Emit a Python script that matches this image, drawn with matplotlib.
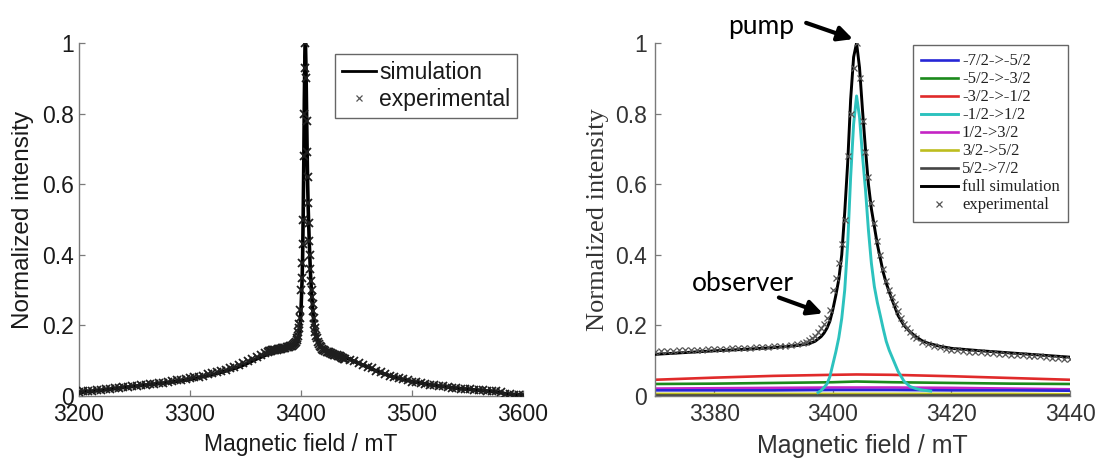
import numpy as np
import matplotlib
matplotlib.use("Agg")
import matplotlib.pyplot as plt
from matplotlib.lines import Line2D

# ---------------- data ----------------
# full simulation (field in mT, normalized intensity)
sim_field = [3200, 3220, 3240, 3260, 3280, 3300, 3320, 3340, 3350, 3360, 3370, 3380, 3385,
             3390, 3394, 3396, 3397, 3398, 3398.5, 3399, 3399.5, 3400, 3400.5, 3401, 3401.5,
             3402, 3402.5, 3403, 3403.5, 3404, 3404.5, 3405, 3405.5, 3406, 3406.5, 3407,
             3407.5, 3408, 3408.5, 3409, 3409.5, 3410, 3411, 3412, 3413, 3414, 3415, 3416,
             3418, 3420, 3425, 3430, 3435, 3440, 3450, 3460, 3470, 3480, 3490, 3500, 3520,
             3540, 3560, 3575, 3585, 3600]
sim_int = [0.010, 0.016, 0.024, 0.031, 0.038, 0.047, 0.060, 0.078, 0.090, 0.105, 0.118, 0.128, 0.132,
           0.137, 0.143, 0.148, 0.155, 0.168, 0.178, 0.192, 0.212, 0.245, 0.285, 0.330, 0.400,
           0.520, 0.660, 0.840, 0.960, 1.000, 0.930, 0.810, 0.700, 0.600, 0.530, 0.480,
           0.430, 0.390, 0.350, 0.320, 0.295, 0.272, 0.228, 0.200, 0.182, 0.168, 0.157, 0.150,
           0.141, 0.135, 0.128, 0.122, 0.116, 0.110, 0.095, 0.082, 0.068, 0.057, 0.048, 0.041, 0.030,
           0.022, 0.016, 0.012, 0.006, 0.003]

# experimental points
exp_field = ([3200 + 4 * i for i in range(43)] +
             [3370 + i for i in range(26)] +
             [3395.5 + 0.5 * i for i in range(38)] +
             [3414 + 1 + i for i in range(26)] +
             [3444 + 4 * i for i in range(40)])
exp_int = [
    # 3200 .. 3368 (step 4)
    0.012, 0.013, 0.014, 0.015, 0.016, 0.017, 0.019, 0.020, 0.022, 0.023, 0.025,
    0.026, 0.028, 0.029, 0.031, 0.032, 0.034, 0.035, 0.037, 0.038, 0.040, 0.042,
    0.044, 0.046, 0.048, 0.050, 0.053, 0.055, 0.058, 0.061, 0.064, 0.067, 0.071,
    0.075, 0.079, 0.083, 0.088, 0.093, 0.098, 0.104, 0.110, 0.116, 0.121,
    # 3370 .. 3395 (step 1)
    0.126, 0.127, 0.127, 0.128, 0.129, 0.129, 0.130, 0.131, 0.131, 0.132, 0.133,
    0.134, 0.134, 0.135, 0.136, 0.136, 0.137, 0.138, 0.139, 0.140, 0.141, 0.142,
    0.143, 0.145, 0.147, 0.150,
    # 3395.5 .. 3414 (step 0.5)
    0.154, 0.158, 0.163, 0.170, 0.180, 0.192, 0.205, 0.222, 0.245, 0.300, 0.335,
    0.376, 0.430, 0.500, 0.680, 0.800, 0.930, 1.000, 0.900, 0.780, 0.690, 0.620,
    0.547, 0.490, 0.440, 0.400, 0.360, 0.325, 0.300, 0.280, 0.260, 0.240, 0.220,
    0.205, 0.192, 0.180, 0.170, 0.163,
    # 3415 .. 3440 (step 1)
    0.153, 0.147, 0.142, 0.138, 0.134, 0.131, 0.129, 0.127, 0.126, 0.125, 0.124,
    0.122, 0.121, 0.120, 0.119, 0.117, 0.116, 0.115, 0.114, 0.113, 0.112, 0.110,
    0.109, 0.108, 0.106, 0.105,
    # 3444 .. 3600 (step 4)
    0.102, 0.098, 0.093, 0.088, 0.083, 0.078, 0.072, 0.067, 0.062, 0.058, 0.054,
    0.050, 0.047, 0.044, 0.041, 0.039, 0.036, 0.034, 0.032, 0.030, 0.028, 0.027,
    0.025, 0.024, 0.022, 0.021, 0.020, 0.019, 0.018, 0.017, 0.016, 0.015, 0.014,
    0.013, 0.010, 0.007, 0.005, 0.004, 0.003, 0.003]

# individual transitions (right panel)
comp_field = [3370, 3380, 3390, 3400, 3404, 3410, 3420, 3430, 3440]
comp_m72 = [0.016, 0.016, 0.016, 0.017, 0.017, 0.017, 0.016, 0.016, 0.015]   # -7/2->-5/2
comp_m52 = [0.034, 0.035, 0.037, 0.039, 0.041, 0.039, 0.037, 0.035, 0.034]   # -5/2->-3/2
comp_m32 = [0.046, 0.052, 0.057, 0.060, 0.061, 0.060, 0.056, 0.051, 0.046]   # -3/2->-1/2
comp_p12 = [0.021, 0.022, 0.023, 0.024, 0.024, 0.024, 0.023, 0.021, 0.019]   # 1/2->3/2
comp_p32 = [0.006, 0.006, 0.006, 0.006, 0.006, 0.006, 0.006, 0.006, 0.005]   # 3/2->5/2
comp_p52 = [0.003, 0.003, 0.003, 0.003, 0.003, 0.003, 0.003, 0.003, 0.003]   # 5/2->7/2

central_field = [3397.5, 3398, 3398.5, 3399, 3399.5, 3400, 3400.5, 3401, 3401.5, 3402, 3402.5,
                 3403, 3403.5, 3404, 3404.5, 3405, 3405.5, 3406, 3406.5, 3407, 3407.5, 3408,
                 3408.5, 3409, 3409.5, 3410, 3411, 3412, 3413, 3414, 3415, 3416, 3416.5]
central_int = [0.010, 0.015, 0.024, 0.034, 0.055, 0.090, 0.125, 0.165, 0.220, 0.300, 0.430,
               0.620, 0.770, 0.850, 0.790, 0.680, 0.585, 0.470, 0.376, 0.310, 0.265, 0.228,
               0.190, 0.155, 0.130, 0.110, 0.070, 0.042, 0.027, 0.021, 0.017, 0.015, 0.014]  # -1/2->1/2

comp_labels = ["-7/2->-5/2", "-5/2->-3/2", "-3/2->-1/2", "-1/2->1/2",
               "1/2->3/2", "3/2->5/2", "5/2->7/2", "full simulation", "experimental"]
comp_colors = ["#2626d6", "#1b8a1b", "#e02a2a", "#2cc2be", "#c424c4", "#bdbd1e", "#444444", "#000000"]

left_xticks = [3200, 3300, 3400, 3500, 3600]
right_xticks = [3380, 3400, 3420, 3440]
yticks = [0, 0.2, 0.4, 0.6, 0.8, 1]
ytick_labels = ["0", "0.2", "0.4", "0.6", "0.8", "1"]

# ---------------- figure ----------------
W, H = 1099, 462
fig = plt.figure(figsize=(W / 100, H / 100), dpi=100)
fig.patch.set_facecolor("white")

def px_axes(l, r, t, b):
    return fig.add_axes([l / W, 1 - b / H, (r - l) / W, (b - t) / H])

sans = "Liberation Sans"
serif = "Liberation Serif"
spine_col = "#7a7a7a"

def style(ax, pad_y, lab_col):
    for s in ["top", "right"]:
        ax.spines[s].set_visible(False)
    for s in ["left", "bottom"]:
        ax.spines[s].set_color(spine_col)
        ax.spines[s].set_linewidth(1.0)
    ax.tick_params(direction="in", length=4, width=0.9, color=spine_col,
                   labelsize=16.5, labelcolor=lab_col)
    ax.tick_params(axis="x", pad=5)
    ax.tick_params(axis="y", pad=pad_y)
    for t in ax.get_xticklabels() + ax.get_yticklabels():
        t.set_fontfamily(sans)

# ---- left panel ----
axL = px_axes(79, 523, 43, 396)
axL.plot(sim_field, sim_int, color="black", lw=2.6, zorder=3)
axL.plot(exp_field, exp_int, ls="none", marker="x", ms=5.5, mew=1.3, color="#1e1e1e", zorder=4)
axL.set_xlim(3200, 3600)
axL.set_ylim(0, 1)
axL.set_xticks(left_xticks)
axL.set_yticks(yticks)
axL.set_yticklabels(ytick_labels)
style(axL, 3.5, "#1a1a1a")
axL.set_xlabel("Magnetic field / mT", fontfamily=sans, fontsize=16.5, color="#1a1a1a")
axL.set_ylabel("Normalized intensity", fontfamily=sans, fontsize=17.5, color="#1a1a1a")
axL.xaxis.label.set_va("center")
axL.xaxis.set_label_coords(0.5, (396 - 445) / 353)
axL.yaxis.label.set_va("center")
axL.yaxis.set_label_coords((23 - 79) / 444, 0.5)

hL = [Line2D([], [], color="black", lw=2.0),
      Line2D([], [], ls="none", marker="x", ms=4, mew=0.9, color="#555555")]
legL = axL.legend(hL, ["simulation", "experimental"], loc="upper right",
                  bbox_to_anchor=((517 - 79) / 444, (396 - 54) / 353), borderaxespad=0,
                  prop={"family": sans, "size": 16.5}, handlelength=1.5, handletextpad=0.12,
                  borderpad=0.3, labelspacing=0.2, fancybox=False, framealpha=1)
legL.get_frame().set_edgecolor("#666666")
legL.get_frame().set_linewidth(1.0)
for t in legL.get_texts():
    t.set_color("#1a1a1a")

# ---- right panel ----
axR = px_axes(655, 1070, 43, 396)
lines = []
for vals, col in zip([comp_m72, comp_m52, comp_m32], comp_colors[:3]):
    lines.append(axR.plot(comp_field, vals, color=col, lw=1.9, zorder=2)[0])
lines.append(axR.plot(central_field, central_int, color=comp_colors[3], lw=2.1, zorder=2.5)[0])
for vals, col in zip([comp_p12, comp_p32, comp_p52], comp_colors[4:7]):
    lines.append(axR.plot(comp_field, vals, color=col, lw=1.9, zorder=1.8)[0])
lines.append(axR.plot(sim_field, sim_int, color="black", lw=2.1, zorder=3)[0])
lines.append(axR.plot(exp_field, exp_int, ls="none", marker="x", ms=5, mew=0.9,
                      color="#555555", zorder=4)[0])
axR.set_xlim(3370, 3440)
axR.set_ylim(0, 1)
axR.set_xticks(right_xticks)
axR.set_yticks(yticks)
axR.set_yticklabels(ytick_labels)
style(axR, 6, "#333333")
axR.set_xlabel("Magnetic field / mT", fontfamily=sans, fontsize=18, color="#333333")
axR.set_ylabel("Normalized intensity", fontfamily=serif, fontsize=19, color="#333333")
axR.xaxis.label.set_va("center")
axR.xaxis.set_label_coords(0.5, (396 - 446) / 353)
axR.yaxis.label.set_va("center")
axR.yaxis.set_label_coords((598 - 655) / 415, 0.5)

legR = axR.legend(lines, comp_labels, loc="upper right",
                  bbox_to_anchor=((1068 - 655) / 415, (396 - 45) / 353), borderaxespad=0,
                  prop={"family": serif, "size": 12}, handlelength=2.2, handletextpad=0.25,
                  borderpad=0.5, labelspacing=0.12, fancybox=False, framealpha=1)
legR.get_frame().set_edgecolor("#666666")
legR.get_frame().set_linewidth(1.0)
for t in legR.get_texts():
    t.set_color("#222222")

# annotations
arrow_kw = dict(arrowstyle="-|>", color="black", lw=3, mutation_scale=22, shrinkA=0, shrinkB=0)
axR.annotate("", xy=(3403.4, 1.011), xytext=(3395.5, 1.057), arrowprops=arrow_kw,
             annotation_clip=False)
axR.text(3387.9, 1.048, "pump", ha="center", va="center", fontfamily="Lato", fontsize=19,
         color="black", clip_on=False)
axR.annotate("", xy=(3398.3, 0.234), xytext=(3390.9, 0.279), arrowprops=arrow_kw,
             annotation_clip=False)
axR.text(3384.8, 0.319, "observer", ha="center", va="center", fontfamily="Lato", fontsize=19,
         color="black")

fig.savefig("out.png", dpi=100, facecolor="white")
